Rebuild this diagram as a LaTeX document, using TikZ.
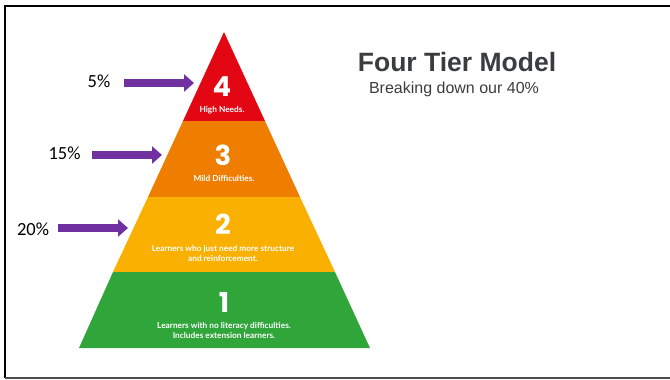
\documentclass[tikz,border=0pt]{standalone}
\usepackage{fontspec}
\setmainfont{Liberation Sans}
\newfontfamily\pctfont{Carlito}
\newfontfamily\tierfont{Lato}
\newfontfamily\numfont{Poppins}
\usetikzlibrary{arrows.meta}

\definecolor{tierred}{HTML}{E30613}
\definecolor{tierorange}{HTML}{EF7D00}
\definecolor{tieryellow}{HTML}{F9B000}
\definecolor{tiergreen}{HTML}{2FA53A}
\definecolor{arrowpurple}{HTML}{7030A0}
\definecolor{titlegray}{HTML}{3A3D40}

\tikzset{
  tiernum/.style  = {text=white, inner sep=0pt, font=\numfont\bfseries\fontsize{27.5}{27.5}\selectfont},
  tiertext/.style = {text=white, inner sep=0pt, anchor=north, align=center,
                     font=\tierfont\bfseries\fontsize{8.3}{9.8}\selectfont},
  pctlabel/.style = {inner sep=0pt, anchor=base, font=\pctfont\fontsize{18.5}{20}\selectfont},
  pctarrow/.style = {line width=8pt, arrowpurple, -{Triangle[width=17pt,length=10pt]}},
}

\begin{document}
\begin{tikzpicture}[x=1pt, y=-1pt]
        \useasboundingbox (0,0) rectangle (670,380);
        \draw [line width=2pt]            (670,6) -- (5,6) -- (5,378);              % frame
        \draw [line width=1.5pt, gray!60!black] (5,378) -- (670,378);               %

        \fill [tierred]    (224,32)  -- (265,121) -- (183,121) -- cycle;            % tier 4
        \fill [tierorange] (183,121) -- (265,121) -- (300,197) -- (148,197) -- cycle;% tier 3
        \fill [tieryellow] (148,197) -- (300,197) -- (335,272) -- (113,272) -- cycle;% tier 2
        \fill [tiergreen]  (113,272) -- (335,272) -- (370,348) -- (79,348)  -- cycle;% tier 1

        \node [tiernum]  (n4) at (222,87)    {4};                                   %
        \node [tiertext] (d4) at (222,106)   {High Needs.};                         %
        \node [tiernum]  (n3) at (223,155)   {3};                                   %
        \node [tiertext] (d3) at (224,175)   {Mild Difficulties.};                  %
        \node [tiernum]  (n2) at (223,224)   {2};                                   %
        \node [tiertext] (d2) at (223,245)   {Learners who just need more structure\\and reinforcement.};
        \node [tiernum]  (n1) at (224,302.5) {1};                                   %
        \node [tiertext] (d1) at (224,322)   {Learners with no literacy difficulties.\\Includes extension learners.};

        \node [font=\bfseries\fontsize{26.5}{26.5}\selectfont, text=titlegray, anchor=base]
              (title) at (457,71) {Four Tier Model};                                %
        \node [font=\fontsize{16}{16}\selectfont, text=titlegray, anchor=base]
              (sub)   at (454,93) {Breaking down our 40\%};                         %

        \node [pctlabel] (p5)  at (99,87)   {5\%};                                  %
        \node [pctlabel] (p15) at (64.5,159) {15\%};                                %
        \node [pctlabel] (p20) at (33,235)  {20\%};                                 %

        \coordinate (s4) at (124,83);   \coordinate (t4) at (194,83);               % to tier 4
        \coordinate (s3) at (92,155);   \coordinate (t3) at (162,155);              % to tier 3
        \coordinate (s2) at (58,228);   \coordinate (t2) at (128,228);              % to tier 2
        \draw [pctarrow] (s4) -- (t4);                                              %
        \draw [pctarrow] (s3) -- (t3);                                              %
        \draw [pctarrow] (s2) -- (t2);                                              %
\end{tikzpicture}
\end{document}
